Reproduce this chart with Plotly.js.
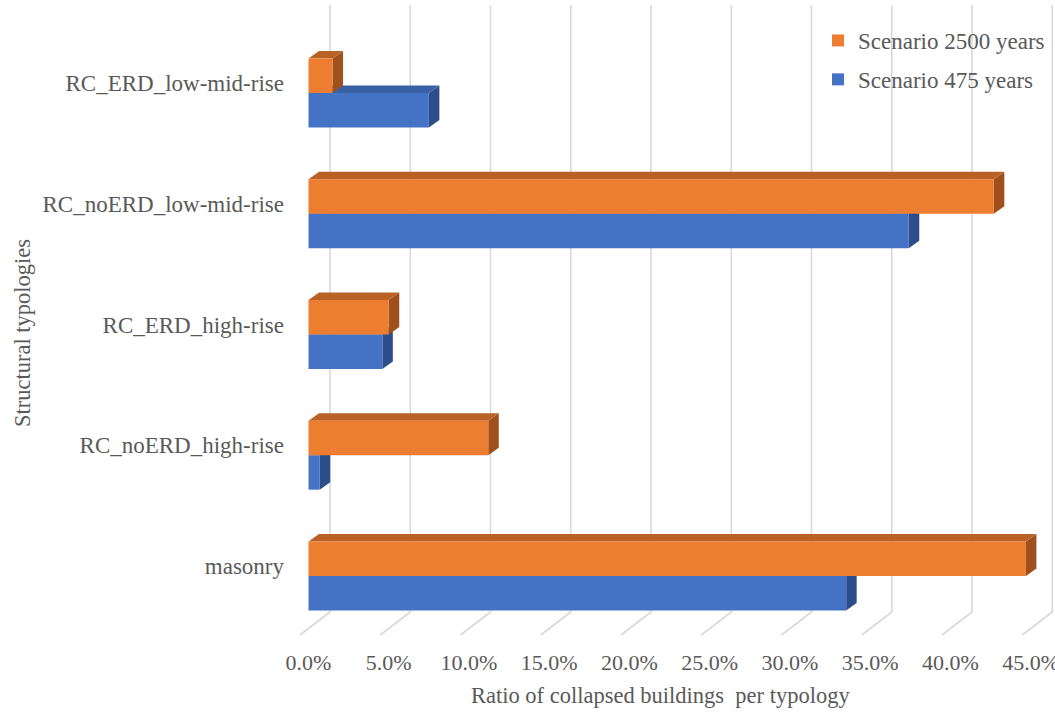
<!DOCTYPE html>
<html>
<head>
<meta charset="utf-8">
<script src="https://cdn.plot.ly/plotly-3.0.1.min.js"></script>
<style>
  #chart svg text { font-family: "Liberation Serif", "Times New Roman", serif !important; }
</style>
</head>
<body style="margin:0;background:#ffffff">
<div id="chart" style="width:1055px;height:712px"></div>
<script>
// Ratio of collapsed buildings per structural typology (percent), bottom to top
const typologies = ['masonry', 'RC_noERD_high-rise', 'RC_ERD_high-rise', 'RC_noERD_low-mid-rise', 'RC_ERD_low-mid-rise'];
const scenario475 = [33.5, 0.7, 4.6, 37.4, 7.5];
const scenario2500 = [44.7, 11.2, 5.0, 42.7, 1.5];
const tickValues = [0, 5, 10, 15, 20, 25, 30, 35, 40, 45];
const tickLabels = tickValues.map(v => v.toFixed(1) + '%');

// ---- page geometry ----
const W = 1055, H = 712;
const margin = { l: 290, r: 0, t: 0, b: 72 };
const plotW = W - margin.l - margin.r;
const plotH = H - margin.t - margin.b;
const xRange = [-1.1526, 46.511];
const yRange = [-0.530, 4.7702];
const pxPerX = plotW / (xRange[1] - xRange[0]);
const pxPerY = plotH / (yRange[1] - yRange[0]);

// oblique "3-D" look: bar depth and the wall/floor offsets, in pixels
const barDepthPx = { x: 10.5, y: 7.5 };
const wallShiftPx = 21.5;      // back wall relative to the bar front plane
const floorFrontPx = -8.5;     // front edge of the floor relative to the bar front plane
const wallTopPx = 5, floorBackPx = 612, floorFrontYPx = 635;

const dX = barDepthPx.x / pxPerX;
const dY = barDepthPx.y / pxPerY;
const barGap = 0.43;
const barW = (1 - barGap) / 2;

const serifFamily = 'Liberation Serif';
const textColor = '#595959';

const colors = {
  s475:  { front: '#4472C4', top: '#3A60A6', side: '#2D4E8B' },
  s2500: { front: '#ED7D31', top: '#BA6126', side: '#A0501C' }
};

// gridlines: vertical on the back wall, then slanting across the floor
const paperY = p => 1 - p / plotH;
const shapes = [];
tickValues.forEach(v => {
  const xb = v + wallShiftPx / pxPerX;
  const xf = v + floorFrontPx / pxPerX;
  shapes.push({
    type: 'path', xref: 'x', yref: 'paper', layer: 'below',
    path: `M ${xb} ${paperY(wallTopPx)} L ${xb} ${paperY(floorBackPx)} L ${xf} ${paperY(floorFrontYPx)}`,
    line: { color: '#D9D9D9', width: 1.6 }
  });
});

// side and top faces of each bar, built from the same values as the bars
function faces(values, lowOffset, c) {
  values.forEach((v, i) => {
    const y0 = i + lowOffset, y1 = y0 + barW;
    shapes.push({
      type: 'path', xref: 'x', yref: 'y', layer: 'below',
      path: `M ${v} ${y0} L ${v} ${y1} L ${v + dX} ${y1 + dY} L ${v + dX} ${y0 + dY} Z`,
      fillcolor: c.side, line: { width: 0 }
    });
    shapes.push({
      type: 'path', xref: 'x', yref: 'y', layer: 'below',
      path: `M 0 ${y1} L ${v} ${y1} L ${v + dX} ${y1 + dY} L ${dX} ${y1 + dY} Z`,
      fillcolor: c.top, line: { width: 0 }
    });
  });
}
faces(scenario475, -barW, colors.s475);
faces(scenario2500, 0, colors.s2500);

const traces = [
  { type: 'bar', orientation: 'h', name: 'Scenario 475 years', legendgroup: 'g475', legendrank: 2,
    y: typologies, x: scenario475, marker: { color: colors.s475.front, line: { width: 0 } }, hoverinfo: 'skip' },
  { type: 'bar', orientation: 'h', name: 'Scenario 2500 years', legendgroup: 'g2500', legendrank: 1,
    y: typologies, x: scenario2500, marker: { color: colors.s2500.front, line: { width: 0 } }, hoverinfo: 'skip' }
];

const layout = {
  width: W, height: H, margin: margin,
  paper_bgcolor: '#ffffff', plot_bgcolor: 'rgba(0,0,0,0)',
  barmode: 'group', bargap: barGap, bargroupgap: 0,
  font: { family: serifFamily, color: textColor, size: 23 },
  xaxis: {
    range: xRange, tickvals: tickValues, ticktext: tickLabels, ticks: '',
    showgrid: false, zeroline: false, showline: false,
    ticklabelshift: floorFrontPx, ticklabelstandoff: 7, ticklabeloverflow: 'allow',
    tickfont: { family: serifFamily, color: textColor, size: 22 }, fixedrange: true
  },
  yaxis: {
    type: 'category', categoryorder: 'array', categoryarray: typologies, range: yRange, ticks: '',
    showgrid: false, zeroline: false, showline: false,
    ticklabelshift: -10, ticklabelstandoff: 5,
    tickfont: { family: serifFamily, color: textColor, size: 23 }, fixedrange: true
  },
  legend: {
    x: (818 - margin.l) / plotW, xanchor: 'left', y: 1 - 19 / plotH, yanchor: 'top',
    traceorder: 'grouped', tracegroupgap: 6, bgcolor: 'rgba(0,0,0,0)',
    font: { family: serifFamily, color: textColor, size: 23 }
  },
  shapes: shapes,
  annotations: [
    { text: 'Ratio of collapsed buildings\u00a0 per typology', xref: 'paper', yref: 'paper',
      x: (660 - margin.l) / plotW, y: (plotH - 695) / plotH, xanchor: 'center', yanchor: 'middle', showarrow: false,
      font: { family: serifFamily, color: textColor, size: 22.5 } },
    { text: 'Structural typologies', xref: 'paper', yref: 'paper',
      x: (22 - margin.l) / plotW, y: paperY(333), xanchor: 'center', yanchor: 'middle', showarrow: false, textangle: -90,
      font: { family: serifFamily, color: textColor, size: 22.5 } }
  ]
};

Plotly.newPlot('chart', traces, layout, { displayModeBar: false });
</script>
</body>
</html>
